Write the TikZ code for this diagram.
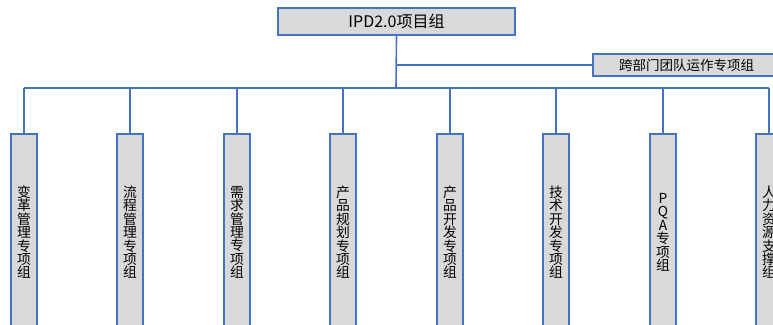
\documentclass[tikz,border=0pt]{standalone}
\usepackage{fontspec}
\setmainfont{Noto Sans CJK SC}
\definecolor{lineblue}{HTML}{4472C4}
\definecolor{boxgray}{HTML}{D9D9D9}
\begin{document}
\begin{tikzpicture}[x=1pt,y=-1pt,
  box/.style={draw=lineblue,fill=boxgray,line width=1.6pt,inner sep=0pt},
  conn/.style={draw=lineblue,line width=1.6pt},
  vbox/.style={box,minimum width=26pt,minimum height=197pt,anchor=north,
    font=\fontsize{13.8}{13.4}\selectfont,align=center,text width=26pt}]
\useasboundingbox (0,0) rectangle (773,324);
\clip (0,0) rectangle (773,324);
\node[box,minimum width=237pt,minimum height=27pt,font=\fontsize{16}{18}\selectfont] (top) at (396.5,21.5) {IPD2.0项目组};
\node[box,minimum width=187pt,minimum height=22pt,font=\fontsize{13.5}{16}\selectfont] (cross) at (686.5,65) {跨部门团队运作专项组};
\coordinate (j) at (396,88);
\coordinate (k) at (396,65);
\node[vbox] (b1) at (24,133) {变\\革\\管\\理\\专\\项\\组};
\node[vbox] (b2) at (130,133) {流\\程\\管\\理\\专\\项\\组};
\node[vbox] (b3) at (237,133) {需\\求\\管\\理\\专\\项\\组};
\node[vbox] (b4) at (343,133) {产\\品\\规\\划\\专\\项\\组};
\node[vbox] (b5) at (450,133) {产\\品\\开\\发\\专\\项\\组};
\node[vbox] (b6) at (556,133) {技\\术\\开\\发\\专\\项\\组};
\node[vbox] (b7) at (663,133) {P\\Q\\A\\专\\项\\组};
\node[vbox] (b8) at (769,133) {人\\力\\资\\源\\支\\撑\\组};
\draw[conn] (top.south) -- (j);
\draw[conn] (k) -- (cross.west);
\draw[conn] (b1.north |- j) -- (b8.north |- j);
\foreach \b in {b1,b2,b3,b4,b5,b6,b7,b8}
  \draw[conn] (\b.north |- j) -- (\b.north);
\end{tikzpicture}
\end{document}
